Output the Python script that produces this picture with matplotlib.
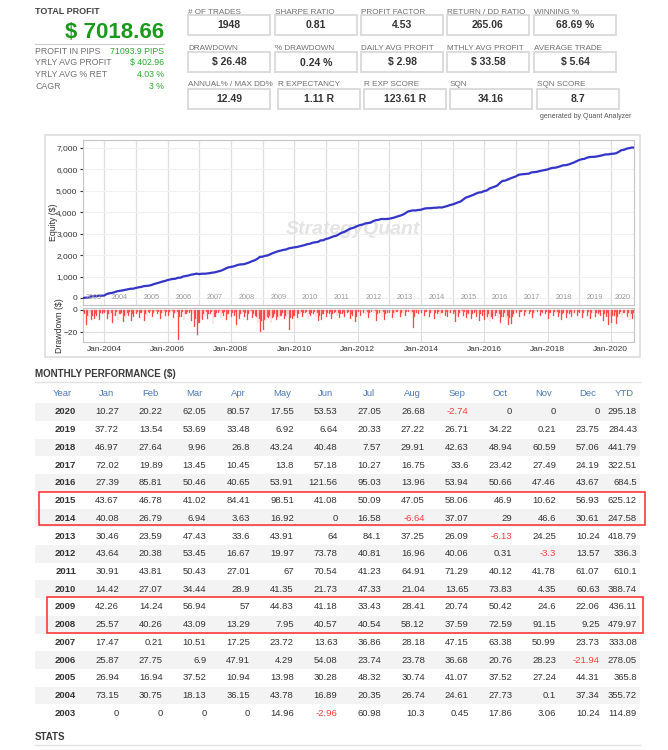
import datetime as dt
import numpy as np
import matplotlib
matplotlib.use("Agg")
import matplotlib.pyplot as plt
from matplotlib.patches import Rectangle
from matplotlib.transforms import blended_transform_factory

plt.rcParams['font.family'] = ['Liberation Sans', 'DejaVu Sans']

# ---- data ----
summary_labels = ["PROFIT IN PIPS", "YRLY AVG PROFIT", "YRLY AVG % RET", "CAGR"]
summary_values = ["71093.9 PIPS", "$ 402.96", "4.03 %", "3 %"]
total_profit = "$ 7018.66"

stat_labels = [
    ["# OF TRADES", "SHARPE RATIO", "PROFIT FACTOR", "RETURN / DD RATIO", "WINNING %"],
    ["DRAWDOWN", "% DRAWDOWN", "DAILY AVG PROFIT", "MTHLY AVG PROFIT", "AVERAGE TRADE"],
    ["ANNUAL% / MAX DD%", "R EXPECTANCY", "R EXP SCORE", "SQN", "SQN SCORE"],
]
stat_values = [
    ["1948", "0.81", "4.53", "265.06", "68.69 %"],
    ["$ 26.48", "0.24 %", "$ 2.98", "$ 33.58", "$ 5.64"],
    ["12.49", "1.11 R", "123.61 R", "34.16", "8.7"],
]

months = ["Jan", "Feb", "Mar", "Apr", "May", "Jun", "Jul", "Aug", "Sep", "Oct", "Nov", "Dec"]
years = [2020, 2019, 2018, 2017, 2016, 2015, 2014, 2013, 2012, 2011,
         2010, 2009, 2008, 2007, 2006, 2005, 2004, 2003]
monthly = [
    [10.27, 20.22, 62.05, 80.57, 17.55, 53.53, 27.05, 26.68, -2.74, 0, 0, 0],
    [37.72, 13.54, 53.69, 33.48, 6.92, 6.64, 20.33, 27.22, 26.71, 34.22, 0.21, 23.75],
    [46.97, 27.64, 9.96, 26.8, 43.24, 40.48, 7.57, 29.91, 42.63, 48.94, 60.59, 57.06],
    [72.02, 19.89, 13.45, 10.45, 13.8, 57.18, 10.27, 16.75, 33.6, 23.42, 27.49, 24.19],
    [27.39, 85.81, 50.46, 40.65, 53.91, 121.56, 95.03, 13.96, 53.94, 50.66, 47.46, 43.67],
    [43.67, 46.78, 41.02, 84.41, 98.51, 41.08, 50.09, 47.05, 58.06, 46.9, 10.62, 56.93],
    [40.08, 26.79, 6.94, 3.63, 16.92, 0, 16.58, -6.64, 37.07, 29, 46.6, 30.61],
    [30.46, 23.59, 47.43, 33.6, 43.91, 64, 84.1, 37.25, 26.09, -6.13, 24.25, 10.24],
    [43.64, 20.38, 53.45, 16.67, 19.97, 73.78, 40.81, 16.96, 40.06, 0.31, -3.3, 13.57],
    [30.91, 43.81, 50.43, 27.01, 67, 70.54, 41.23, 64.91, 71.29, 40.12, 41.78, 61.07],
    [14.42, 27.07, 34.44, 28.9, 41.35, 21.73, 47.33, 21.04, 13.65, 73.83, 4.35, 60.63],
    [42.26, 14.24, 56.94, 57, 44.83, 41.18, 33.43, 28.41, 20.74, 50.42, 24.6, 22.06],
    [25.57, 40.26, 43.09, 13.29, 7.95, 40.57, 40.54, 58.12, 37.59, 72.59, 91.15, 9.25],
    [17.47, 0.21, 10.51, 17.25, 23.72, 13.63, 36.86, 28.18, 47.15, 63.38, 50.99, 23.73],
    [25.87, 27.75, 6.9, 47.91, 4.29, 54.08, 23.74, 23.78, 36.68, 20.76, 28.23, -21.94],
    [26.94, 16.94, 37.52, 10.94, 13.98, 30.28, 48.32, 30.74, 41.07, 37.52, 27.24, 44.31],
    [73.15, 30.75, 18.13, 36.15, 43.78, 16.89, 20.35, 26.74, 24.61, 27.73, 0.1, 37.34],
    [0, 0, 0, 0, 14.96, -2.96, 60.98, 10.3, 0.45, 17.86, 3.06, 10.24],
]
ytd = [295.18, 284.43, 441.79, 322.51, 684.5, 625.12, 247.58, 418.79, 336.3,
       610.1, 388.74, 436.11, 479.97, 333.08, 278.05, 365.8, 355.72, 114.89]

# worst drawdown per half month, estimated from the strip (2003 .. 2020)
dd_years = list(range(2003, 2021))
drawdown = [
    [0, 0, 0, 0, 0, 0, 0, 0, -2, -4, -14, -5, -6, -3, -9, -5, -8, -4, -5, -2, -9, -3, -4, -2],
    [-3, -2, -8, -4, -6, -3, -12, -5, -5, -2, -9, -4, -4, -3, -11, -5, -7, -3, -5, -2, -10, -4, -6, -3],
    [-4, -2, -7, -3, -3, -2, -10, -4, -5, -2, -3, -1, -6, -3, -2, -1, -4, -2, -8, -3, -3, -1, -5, -2],
    [-5, -2, -3, -1, -7, -3, -4, -2, -27, -6, -6, -2, -9, -4, -4, -2, -3, -1, -10, -4, -15, -8, -23, -12],
    [-12, -7, -9, -4, -5, -2, -8, -4, -4, -2, -13, -6, -6, -3, -3, -1, -7, -3, -5, -2, -9, -4, -4, -2],
    [-6, -3, -5, -2, -14, -6, -8, -4, -4, -2, -6, -3, -9, -4, -3, -1, -7, -4, -5, -6, -12, -8, -20, -10],
    [-18, -9, -10, -6, -7, -5, -12, -7, -6, -4, -9, -6, -7, -5, -5, -3, -8, -5, -6, -4, -18, -7, -8, -5],
    [-5, -3, -7, -4, -4, -2, -6, -3, -3, -2, -8, -4, -5, -3, -4, -2, -6, -3, -10, -5, -9, -4, -4, -2],
    [-6, -3, -4, -2, -8, -4, -3, -2, -5, -3, -7, -4, -4, -2, -6, -3, -3, -2, -8, -4, -5, -3, -11, -6],
    [-2, 0, -5, -2, -3, 0, -4, -2, -7, -3, -2, 0, -3, -1, -10, -4, -3, 0, -6, -2, -9, -4, -3, 0],
    [-3, 0, -7, -3, -4, -2, -2, 0, -6, -3, -3, 0, -5, -2, -2, 0, -4, -2, -16, -6, -3, 0, -4, -2],
    [-3, 0, -5, -2, -2, 0, -6, -3, -3, 0, -8, -3, -4, -2, -7, -3, -3, 0, -5, -2, -6, -3, -3, 0],
    [-4, -2, -11, -5, -6, -3, -3, -1, -5, -2, -7, -3, -4, -2, -8, -4, -3, -1, -6, -3, -10, -4, -5, -2],
    [-9, -5, -6, -4, -11, -6, -8, -5, -5, -3, -7, -4, -12, -6, -6, -3, -9, -5, -14, -7, -13, -6, -4, -2],
    [-3, 0, -6, -2, -2, 0, -5, -2, -3, 0, -4, -2, -7, -3, -3, 0, -2, 0, -5, -2, -3, 0, -4, -2],
    [-8, -3, -3, 0, -5, -2, -4, -2, -6, -3, -9, -4, -3, 0, -7, -3, -4, -2, -6, -3, -3, 0, -5, -2],
    [-3, 0, -7, -3, -2, 0, -5, -2, -8, -3, -3, 0, -6, -3, -4, -2, -5, -2, -10, -4, -6, -3, -14, -6],
    [-12, -5, -5, -2, -13, -6, -4, -2, -7, -3, -3, 0, -6, -3, -9, -4, -8, -3, 0, 0, 0, 0, 0, 0],
]

W, H = 668, 750
fig = plt.figure(figsize=(W / 100, H / 100), dpi=100)
bg = fig.add_axes([0, 0, 1, 1])
bg.set_xlim(0, W)
bg.set_ylim(H, 0)
bg.axis("off")


def rect(x0, y0, x1, y1):
    return [x0 / W, 1 - y1 / H, (x1 - x0) / W, (y1 - y0) / H]


def fmt(v):
    return f"{v:.2f}".rstrip("0").rstrip(".")


label_c = "#707070"
dark = "#333333"
green = "#2ca62c"

# ---- top left summary ----
bg.text(35, 12, "TOTAL PROFIT", fontsize=6.5, fontweight="bold", color="#444", va="center")
bg.text(164, 32, total_profit, fontsize=16, fontweight="bold", color="#1a9a1a", ha="right", va="center")
bg.plot([35, 164], [43.5, 43.5], color="#cccccc", lw=0.8)
for i, (lab, val) in enumerate(zip(summary_labels, summary_values)):
    y = 51 + i * 11.8
    bg.text(35, y, lab, fontsize=6.3, color=label_c, va="center")
    bg.text(164, y, val, fontsize=6.3, color=green, ha="right", va="center")

# ---- stat boxes ----
box_rows = [(12, 15, 35), (49, 52, 72), (85, 89, 109)]
box_cols = [[188, 275, 361, 447, 534], [188, 275, 361, 447, 534], [188, 278, 364, 450, 537]]
for r, (ly, y0, y1) in enumerate(box_rows):
    for c in range(5):
        x0 = box_cols[r][c]
        bg.text(x0, ly, stat_labels[r][c], fontsize=5.9, color=label_c, va="center")
        bg.add_patch(Rectangle((x0, y0), 82, y1 - y0, fill=False, ec="#d9d9d9", lw=1.3))
        bg.text(x0 + 41, (y0 + y1) / 2 + 0.5, stat_values[r][c], fontsize=7.5, fontweight="bold",
                color=dark, ha="center", va="center")
bg.text(540, 117, "generated by Quant Analyzer", fontsize=5, color="#555", va="center")

# ---- chart panel ----
bg.add_patch(Rectangle((45, 135), 595, 222, fill=False, ec="#dddddd", lw=1.2))

dates = [dt.date(2003, 5, 1)]
equity = [0.0]
total = 0.0
for yr in sorted(years):
    row = monthly[years.index(yr)]
    for m in range(12):
        if yr == 2003 and m < 4:
            continue
        if yr == 2020 and m > 8:
            continue
        total += row[m]
        nm = dt.date(yr + (m + 1) // 12, (m + 1) % 12 + 1, 1)
        end = nm - dt.timedelta(days=1)
        if yr == 2020 and m == 8:
            end = dt.date(2020, 9, 22)
        dates.append(end)
        equity.append(total)

xmin, xmax = dt.date(2003, 5, 1), dt.date(2020, 9, 24)
grid_c = "#dedede"

ax = fig.add_axes(rect(83, 140, 634, 305))
ax.plot(dates, equity, color="#3434c8", lw=1.6, zorder=3)
ax.set_xlim(xmin, xmax)
ax.set_ylim(-327, 7373)
ax.set_yticks(range(0, 7001, 1000))
ax.set_yticklabels([f"{v:,}" for v in range(0, 7001, 1000)])
ax.set_xticks([dt.date(y, 1, 1) for y in range(2004, 2021)])
ax.set_xticklabels([])
ax.tick_params(axis="x", length=0)
ax.tick_params(axis="y", labelsize=6, colors=dark, length=2, pad=2)
ax.grid(True, axis="x", color=grid_c, lw=0.9)
ax.grid(True, axis="y", color="#f0f0f0", lw=0.8)
for s in ax.spines.values():
    s.set_color("#c4c4c4")
trans = blended_transform_factory(ax.transData, ax.transAxes)
for y in range(2003, 2021):
    a = max(dt.date(y, 1, 1), xmin)
    b = min(dt.date(y + 1, 1, 1), xmax)
    mid = a + (b - a) / 2
    ax.text(mid, 0.045, str(y), transform=trans, fontsize=5.2, color="#9a9a9a",
            ha="center", va="center")
ax.text(0.49, 0.46, "StrategyQuant", transform=ax.transAxes, fontsize=14, fontweight="bold",
        style="italic", color="#e4e4e4", ha="center", va="center", zorder=1)

axd = fig.add_axes(rect(83, 308, 634, 342))
dd_x, dd_v = [], []
for y, row in zip(dd_years, drawdown):
    for k, v in enumerate(row):
        if v != 0:
            day = 8 if k % 2 == 0 else 22
            dd_x.append(dt.date(y, k // 2 + 1, day))
            dd_v.append(v)
axd.bar(dd_x, dd_v, width=9, color="#ff1a1a", ec="#ff8080", lw=0.3, zorder=3)
axd.set_xlim(xmin, xmax)
axd.set_ylim(-29, 1.8)
axd.set_yticks([0, -20])
ticks = [dt.date(y, 1, 1) for y in range(2004, 2021, 2)]
axd.set_xticks(ticks)
axd.set_xticklabels([f"Jan-{t.year}" for t in ticks])
axd.tick_params(axis="x", labelsize=6, colors=dark, length=0, pad=3)
axd.tick_params(axis="y", labelsize=6, colors=dark, length=2, pad=2)
axd.grid(True, color=grid_c, lw=0.8)
for s in axd.spines.values():
    s.set_color("#c4c4c4")

bg.text(53, 222, "Equity ($)", rotation=90, fontsize=6.3, color=dark, ha="center", va="center")
bg.text(60, 326, "Drawdown ($)", rotation=90, fontsize=6.3, color=dark, ha="center", va="center")

# ---- monthly table ----
bg.text(35, 374, "MONTHLY PERFORMANCE ($)", fontsize=7, fontweight="bold", color="#3a3a3a", va="center")
bg.plot([35, 640], [382, 382], color="#e2e2e2", lw=1)
head_c = "#4a78b4"
col_right = [119 + 43.7 * j for j in range(12)]
bg.text(62, 394, "Year", fontsize=6.8, color=head_c, ha="center", va="center")
for j, mname in enumerate(months):
    bg.text(col_right[j] - 12, 394, mname, fontsize=6.8, color=head_c, ha="center", va="center")
bg.text(624, 394, "YTD", fontsize=6.8, color=head_c, ha="center", va="center")

row_h = 17.72
for i, yr in enumerate(years):
    y = 412 + i * row_h
    if i % 2 == 0:
        bg.add_patch(Rectangle((35, y - row_h / 2), 605, row_h, color="#f3f3f3", lw=0, zorder=0))
    bg.text(76, y, str(yr), fontsize=6.8, fontweight="bold", color=dark, ha="right", va="center")
    for j, v in enumerate(monthly[i]):
        bg.text(col_right[j], y, fmt(v), fontsize=6.8, color="#ff3b3b" if v < 0 else dark,
                ha="right", va="center")
    bg.text(637, y, fmt(ytd[i]), fontsize=6.8, color=dark, ha="right", va="center")

bg.add_patch(Rectangle((39, 492), 606, 33, fill=False, ec="#ff2a2a", lw=1.1))
bg.add_patch(Rectangle((47, 597), 596, 36, fill=False, ec="#ff2a2a", lw=1.1))

bg.text(35, 737, "STATS", fontsize=7, fontweight="bold", color="#3a3a3a", va="center")
bg.plot([35, 640], [745, 745], color="#e2e2e2", lw=1)

fig.savefig("out.png", dpi=100)
